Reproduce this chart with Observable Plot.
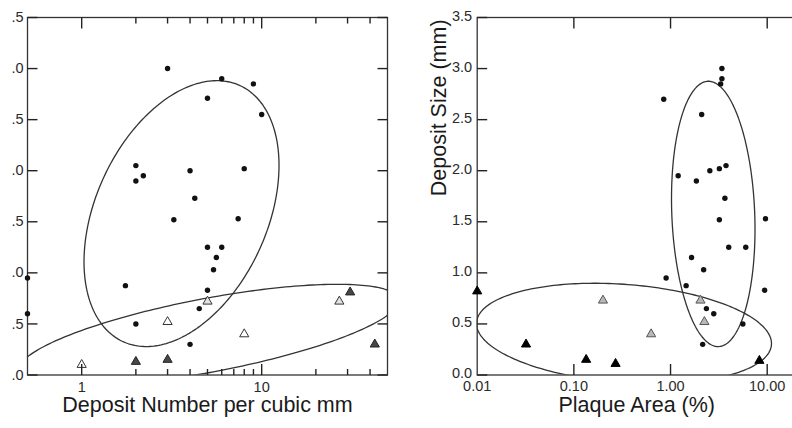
<!DOCTYPE html>
<html>
<head>
<meta charset="utf-8">
<script src="https://cdn.jsdelivr.net/npm/d3@7"></script>
<script src="https://cdn.jsdelivr.net/npm/@observablehq/plot@0.6"></script>
<style>
  html, body { margin: 0; padding: 0; background: #fff; overflow: hidden; }
  #wrap { position: relative; width: 792px; height: 428px; overflow: hidden; background: #fff; }
  #left, #right { position: absolute; top: 0; }
  #left { left: 0; width: 396px; }
  #right { left: 396px; width: 410px; }
  #wrap svg { max-width: none !important; }
</style>
</head>
<body>
<div id="wrap"><div id="left"></div><div id="right"></div></div>
<script>
// ---------- data ----------
const leftDotX = [3, 6, 9, 5, 10, 2, 2, 2.2, 4, 8, 4.25, 3.25, 7.4, 5, 6, 5.6, 5.4, 5, 1.75, 0.5, 0.5, 2, 4.5, 4];
const leftDotY = [3.0, 2.9, 2.85, 2.71, 2.55, 2.05, 1.9, 1.95, 2.0, 2.02, 1.73, 1.52, 1.53, 1.25, 1.25, 1.15, 1.03, 0.83, 0.875, 0.95, 0.6, 0.5, 0.65, 0.3];
const leftTriX = [1, 2, 3, 3, 5, 8, 27, 31, 42.5];
const leftTriY = [0.1, 0.13, 0.15, 0.52, 0.72, 0.4, 0.72, 0.81, 0.3];
const leftTriShade = ["white", "dark", "dark", "white", "light", "white", "light", "dark", "dark"];

const rightDotX = [3.4, 3.4, 3.3, 0.85, 2.1, 1.2, 1.85, 2.55, 3.2, 3.75, 3.65, 3.2, 9.6, 4.0, 6.0, 1.65, 2.2, 0.9, 1.45, 9.4, 2.35, 2.8, 5.6, 2.15];
const rightDotY = [3.0, 2.9, 2.85, 2.7, 2.55, 1.95, 1.9, 2.0, 2.02, 2.05, 1.73, 1.52, 1.53, 1.25, 1.25, 1.15, 1.03, 0.95, 0.875, 0.83, 0.65, 0.6, 0.5, 0.3];
const rightTriX = [0.01, 0.032, 0.134, 0.27, 8.3, 0.2, 0.63, 2.04, 2.24];
const rightTriY = [0.82, 0.3, 0.15, 0.11, 0.14, 0.73, 0.4, 0.73, 0.52];
const rightTriShade = ["black", "black", "black", "black", "black", "gray", "gray", "gray", "gray"];

// ellipses (center in log10 x / linear y, covariance in log10-x / y units)
const ellipsePanel = ["left", "left", "right", "right"];
const ellipseCenterLogX = [0.5546, 0.7046, 0.442, -0.4814];
const ellipseCenterY = [1.580, 0.389, 1.577, 0.406];
const ellipseVarX = [0.2934, 1.114, 0.1865, 2.328];
const ellipseVarY = [1.6936, 0.2491, 1.687, 0.2422];
const ellipseCovXY = [0.2555, 0.3571, -0.0645, -0.1493];

// ticks and labels
const yTicks = [0, 0.5, 1.0, 1.5, 2.0, 2.5, 3.0, 3.5];
const leftMajorTicks = [1, 10];
const leftMinorTicks = [2, 3, 4, 5, 6, 7, 8, 9, 20, 30, 40];
const leftXLabels = [1, 10];
const rightMajorTicks = [0.1, 1, 10];
const rightXLabels = [0.01, 0.1, 1, 10];
const leftXTitle = "Deposit Number per cubic mm";
const rightXTitle = "Plaque Area (%)";
const rightYTitle = "Deposit Size (mm)";

// ---------- helpers ----------
const FONT = "Liberation Sans, Arial, Helvetica, sans-serif";
const INK = "#2a2a2a";
const H = 428, MT = 17, MB = 53.5;
const FH = H - MT - MB;
const YMAX = 3.5;
const yPer = YMAX / FH; // data units per pixel in y
const LDOM = [0.5, 50], RDOM = [0.01, 20];
const LW = 360, RW = 319.1; // frame widths in px
const lPerDec = LW / Math.log10(LDOM[1] / LDOM[0]);
const rPerDec = RW / Math.log10(RDOM[1] / RDOM[0]);

function ellipseRows(i) {
  const l11 = Math.sqrt(ellipseVarX[i]);
  const l21 = ellipseCovXY[i] / l11;
  const l22 = Math.sqrt(ellipseVarY[i] - l21 * l21);
  const rows = [];
  const n = 240;
  for (let k = 0; k <= n; k++) {
    const t = (2 * Math.PI * k) / n;
    const u = l11 * Math.cos(t);
    const v = l21 * Math.cos(t) + l22 * Math.sin(t);
    rows.push({x: Math.pow(10, ellipseCenterLogX[i] + u), y: ellipseCenterY[i] + v});
  }
  return rows;
}
function zip(xs, ys, extra) {
  return xs.map((x, i) => ({x, y: ys[i], s: extra ? extra[i] : null}));
}

const leftDots = zip(leftDotX, leftDotY);
const leftTris = zip(leftTriX, leftTriY, leftTriShade);
const rightDots = zip(rightDotX, rightDotY);
const rightTris = zip(rightTriX, rightTriY, rightTriShade);

const ellipseMarks = panel => ellipsePanel
  .map((p, i) => p === panel ? Plot.line(ellipseRows(i), {x: "x", y: "y", stroke: "#333", strokeWidth: 1.3, clip: true}) : null)
  .filter(Boolean);

const triStyle = {
  white: {fill: "#ffffff", stroke: "#333"},
  light: {fill: "#e2e2e2", stroke: "#333"},
  dark: {fill: "#474747", stroke: "#222"},
  black: {fill: "#000000", stroke: "#000"},
  gray: {fill: "#b8b8b8", stroke: "#555"}
};
const triMarks = (tris) => Object.keys(triStyle).map(k =>
  Plot.dot(tris.filter(d => d.s === k), {x: "x", y: "y", symbol: "triangle", r: 3.4, fill: triStyle[k].fill, stroke: triStyle[k].stroke, strokeWidth: 1})
);

// tick segments as rows {x1,y1,x2,y2}
function xTickRows(values, len) {
  const rows = [];
  for (const v of values) {
    rows.push({x1: v, x2: v, y1: 0, y2: len * yPer});
    rows.push({x1: v, x2: v, y1: YMAX, y2: YMAX - len * yPer});
  }
  return rows;
}
function yTickRows(x0, perDec, dir, len) {
  const xe = x0 * Math.pow(10, dir * len / perDec);
  return yTicks.map(v => ({x1: x0, x2: xe, y1: v, y2: v}));
}
const tickMark = rows => Plot.link(rows, {x1: "x1", x2: "x2", y1: "y1", y2: "y2", stroke: "#222", strokeWidth: 1.4});

// ---------- left panel ----------
const left = Plot.plot({
  width: 396, height: H,
  marginLeft: 27, marginRight: 9, marginTop: MT, marginBottom: MB,
  style: {fontFamily: FONT, background: "transparent", overflow: "visible", maxWidth: "none"},
  x: {type: "log", domain: LDOM, axis: null},
  y: {domain: [0, YMAX], axis: null},
  marks: [
    Plot.frame({stroke: "#333", strokeWidth: 1.3}),
    ...ellipseMarks("left"),
    Plot.text(yTicks, {y: d => d, text: d => d3.format(".1f")(d).slice(1), frameAnchor: "left", dx: -4, textAnchor: "end", fontSize: 14.5, fill: INK}),
    Plot.text(leftXLabels, {x: d => d, text: d => String(d), frameAnchor: "bottom", dy: 16.5, fontSize: 14.5, fill: INK}),
    Plot.text([leftXTitle], {text: d => d, frameAnchor: "bottom", dy: 37, fontSize: 21.5, fill: "#1a1a1a"}),
    Plot.dot(leftDots, {x: "x", y: "y", r: 2.7, fill: "#111", stroke: "none"}),
    ...triMarks(leftTris),
    tickMark(xTickRows(leftMajorTicks, 11)),
    tickMark(xTickRows(leftMinorTicks, 6)),
    tickMark(yTickRows(LDOM[0], lPerDec, 1, 10)),
    tickMark(yTickRows(LDOM[1], lPerDec, -1, 10))
  ]
});
document.getElementById("left").appendChild(left);

// ---------- right panel ----------
const right = Plot.plot({
  width: 410, height: H,
  marginLeft: 80.7, marginRight: 10.2, marginTop: MT, marginBottom: MB,
  style: {fontFamily: FONT, background: "transparent", overflow: "visible", maxWidth: "none"},
  x: {type: "log", domain: RDOM, axis: null},
  y: {domain: [0, YMAX], axis: null},
  marks: [
    Plot.frame({stroke: "#333", strokeWidth: 1.3}),
    ...ellipseMarks("right"),
    Plot.text(yTicks, {y: d => d, text: d => d3.format(".1f")(d), frameAnchor: "left", dx: -5, dy: -1.5, textAnchor: "end", fontSize: 14.5, fill: INK}),
    Plot.text(rightXLabels, {x: d => d, text: d => d3.format(".2f")(d), frameAnchor: "bottom", dy: 16, fontSize: 14.5, fill: INK}),
    Plot.text([rightXTitle], {text: d => d, frameAnchor: "bottom", dy: 37, fontSize: 21.5, fill: "#1a1a1a"}),
    Plot.text([rightYTitle], {text: d => d, frameAnchor: "left", dx: -38, rotate: -90, fontSize: 21.5, fill: "#1a1a1a"}),
    Plot.dot(rightDots, {x: "x", y: "y", r: 2.7, fill: "#111", stroke: "none"}),
    ...triMarks(rightTris),
    tickMark(xTickRows(rightMajorTicks, 11)),
    tickMark(yTickRows(RDOM[0], rPerDec, 1, 10))
  ]
});
document.getElementById("right").appendChild(right);
</script>
</body>
</html>
